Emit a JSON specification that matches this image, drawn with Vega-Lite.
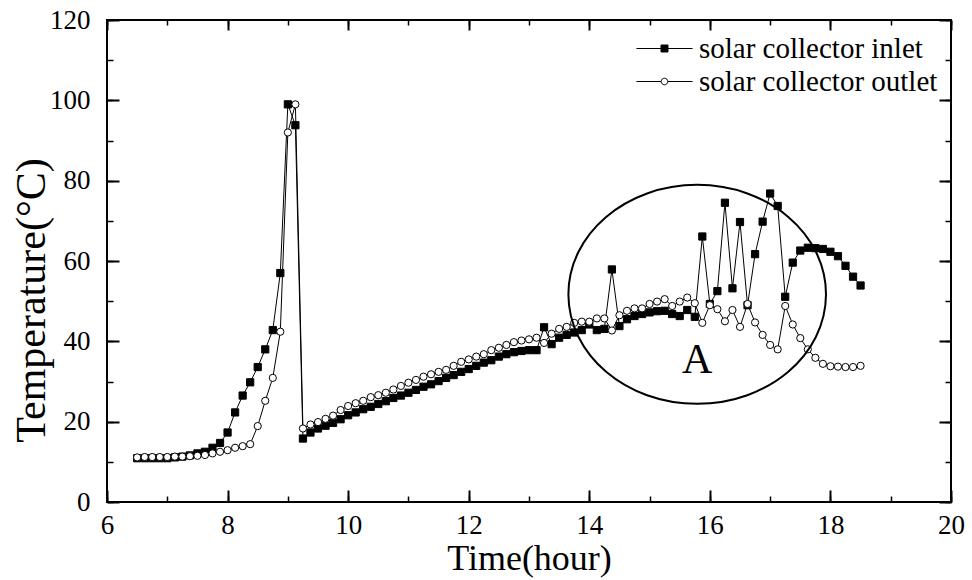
{
  "$schema": "https://vega.github.io/schema/vega-lite/v6.json",
  "width": 844,
  "height": 482,
  "autosize": {"type": "none"},
  "padding": {"left": 107, "top": 20, "right": 21, "bottom": 78},
  "background": "white",
  "datasets": {
    "temps": [
      {"time": 6.5, "temperature": 10.9, "series": "solar collector inlet"},
      {"time": 6.625, "temperature": 10.9, "series": "solar collector inlet"},
      {"time": 6.75, "temperature": 10.9, "series": "solar collector inlet"},
      {"time": 6.875, "temperature": 10.9, "series": "solar collector inlet"},
      {"time": 7.0, "temperature": 10.9, "series": "solar collector inlet"},
      {"time": 7.125, "temperature": 11.1, "series": "solar collector inlet"},
      {"time": 7.25, "temperature": 11.3, "series": "solar collector inlet"},
      {"time": 7.375, "temperature": 11.6, "series": "solar collector inlet"},
      {"time": 7.5, "temperature": 12.1, "series": "solar collector inlet"},
      {"time": 7.625, "temperature": 12.5, "series": "solar collector inlet"},
      {"time": 7.75, "temperature": 13.5, "series": "solar collector inlet"},
      {"time": 7.875, "temperature": 14.7, "series": "solar collector inlet"},
      {"time": 8.0, "temperature": 17.3, "series": "solar collector inlet"},
      {"time": 8.125, "temperature": 22.3, "series": "solar collector inlet"},
      {"time": 8.25, "temperature": 26.5, "series": "solar collector inlet"},
      {"time": 8.375, "temperature": 29.8, "series": "solar collector inlet"},
      {"time": 8.5, "temperature": 33.6, "series": "solar collector inlet"},
      {"time": 8.625, "temperature": 38.0, "series": "solar collector inlet"},
      {"time": 8.75, "temperature": 42.8, "series": "solar collector inlet"},
      {"time": 8.875, "temperature": 57.0, "series": "solar collector inlet"},
      {"time": 9.0, "temperature": 99.0, "series": "solar collector inlet"},
      {"time": 9.125, "temperature": 93.8, "series": "solar collector inlet"},
      {"time": 9.25, "temperature": 15.8, "series": "solar collector inlet"},
      {"time": 9.375, "temperature": 17.3, "series": "solar collector inlet"},
      {"time": 9.5, "temperature": 18.3, "series": "solar collector inlet"},
      {"time": 9.625, "temperature": 19.0, "series": "solar collector inlet"},
      {"time": 9.75, "temperature": 19.7, "series": "solar collector inlet"},
      {"time": 9.875, "temperature": 20.6, "series": "solar collector inlet"},
      {"time": 10.0, "temperature": 21.6, "series": "solar collector inlet"},
      {"time": 10.125, "temperature": 22.3, "series": "solar collector inlet"},
      {"time": 10.25, "temperature": 23.1, "series": "solar collector inlet"},
      {"time": 10.375, "temperature": 23.7, "series": "solar collector inlet"},
      {"time": 10.5, "temperature": 24.4, "series": "solar collector inlet"},
      {"time": 10.625, "temperature": 25.1, "series": "solar collector inlet"},
      {"time": 10.75, "temperature": 25.9, "series": "solar collector inlet"},
      {"time": 10.875, "temperature": 26.5, "series": "solar collector inlet"},
      {"time": 11.0, "temperature": 27.2, "series": "solar collector inlet"},
      {"time": 11.125, "temperature": 27.9, "series": "solar collector inlet"},
      {"time": 11.25, "temperature": 28.7, "series": "solar collector inlet"},
      {"time": 11.375, "temperature": 29.3, "series": "solar collector inlet"},
      {"time": 11.5, "temperature": 30.1, "series": "solar collector inlet"},
      {"time": 11.625, "temperature": 30.9, "series": "solar collector inlet"},
      {"time": 11.75, "temperature": 31.6, "series": "solar collector inlet"},
      {"time": 11.875, "temperature": 32.4, "series": "solar collector inlet"},
      {"time": 12.0, "temperature": 33.1, "series": "solar collector inlet"},
      {"time": 12.125, "temperature": 33.9, "series": "solar collector inlet"},
      {"time": 12.25, "temperature": 34.7, "series": "solar collector inlet"},
      {"time": 12.375, "temperature": 35.3, "series": "solar collector inlet"},
      {"time": 12.5, "temperature": 36.2, "series": "solar collector inlet"},
      {"time": 12.625, "temperature": 36.8, "series": "solar collector inlet"},
      {"time": 12.75, "temperature": 37.3, "series": "solar collector inlet"},
      {"time": 12.875, "temperature": 37.6, "series": "solar collector inlet"},
      {"time": 13.0, "temperature": 37.8, "series": "solar collector inlet"},
      {"time": 13.125, "temperature": 37.8, "series": "solar collector inlet"},
      {"time": 13.25, "temperature": 43.5, "series": "solar collector inlet"},
      {"time": 13.375, "temperature": 39.3, "series": "solar collector inlet"},
      {"time": 13.5, "temperature": 40.9, "series": "solar collector inlet"},
      {"time": 13.625, "temperature": 41.6, "series": "solar collector inlet"},
      {"time": 13.75, "temperature": 42.2, "series": "solar collector inlet"},
      {"time": 13.875, "temperature": 42.8, "series": "solar collector inlet"},
      {"time": 14.0, "temperature": 44.2, "series": "solar collector inlet"},
      {"time": 14.125, "temperature": 42.8, "series": "solar collector inlet"},
      {"time": 14.25, "temperature": 43.1, "series": "solar collector inlet"},
      {"time": 14.375, "temperature": 57.9, "series": "solar collector inlet"},
      {"time": 14.5, "temperature": 43.8, "series": "solar collector inlet"},
      {"time": 14.625, "temperature": 45.5, "series": "solar collector inlet"},
      {"time": 14.75, "temperature": 46.3, "series": "solar collector inlet"},
      {"time": 14.875, "temperature": 46.8, "series": "solar collector inlet"},
      {"time": 15.0, "temperature": 47.2, "series": "solar collector inlet"},
      {"time": 15.125, "temperature": 47.5, "series": "solar collector inlet"},
      {"time": 15.25, "temperature": 47.6, "series": "solar collector inlet"},
      {"time": 15.375, "temperature": 46.8, "series": "solar collector inlet"},
      {"time": 15.5, "temperature": 46.3, "series": "solar collector inlet"},
      {"time": 15.625, "temperature": 47.8, "series": "solar collector inlet"},
      {"time": 15.75, "temperature": 46.1, "series": "solar collector inlet"},
      {"time": 15.875, "temperature": 66.1, "series": "solar collector inlet"},
      {"time": 16.0, "temperature": 49.3, "series": "solar collector inlet"},
      {"time": 16.125, "temperature": 52.5, "series": "solar collector inlet"},
      {"time": 16.25, "temperature": 74.5, "series": "solar collector inlet"},
      {"time": 16.375, "temperature": 53.2, "series": "solar collector inlet"},
      {"time": 16.5, "temperature": 69.7, "series": "solar collector inlet"},
      {"time": 16.625, "temperature": 49.0, "series": "solar collector inlet"},
      {"time": 16.75, "temperature": 61.7, "series": "solar collector inlet"},
      {"time": 16.875, "temperature": 69.8, "series": "solar collector inlet"},
      {"time": 17.0, "temperature": 76.8, "series": "solar collector inlet"},
      {"time": 17.125, "temperature": 73.7, "series": "solar collector inlet"},
      {"time": 17.25, "temperature": 51.1, "series": "solar collector inlet"},
      {"time": 17.375, "temperature": 59.6, "series": "solar collector inlet"},
      {"time": 17.5, "temperature": 62.6, "series": "solar collector inlet"},
      {"time": 17.625, "temperature": 63.3, "series": "solar collector inlet"},
      {"time": 17.75, "temperature": 63.2, "series": "solar collector inlet"},
      {"time": 17.875, "temperature": 63.0, "series": "solar collector inlet"},
      {"time": 18.0, "temperature": 62.3, "series": "solar collector inlet"},
      {"time": 18.125, "temperature": 61.2, "series": "solar collector inlet"},
      {"time": 18.25, "temperature": 58.8, "series": "solar collector inlet"},
      {"time": 18.375, "temperature": 56.1, "series": "solar collector inlet"},
      {"time": 18.5, "temperature": 53.9, "series": "solar collector inlet"},
      {"time": 6.5, "temperature": 11.1, "series": "solar collector outlet"},
      {"time": 6.625, "temperature": 11.2, "series": "solar collector outlet"},
      {"time": 6.75, "temperature": 11.2, "series": "solar collector outlet"},
      {"time": 6.875, "temperature": 11.2, "series": "solar collector outlet"},
      {"time": 7.0, "temperature": 11.2, "series": "solar collector outlet"},
      {"time": 7.125, "temperature": 11.3, "series": "solar collector outlet"},
      {"time": 7.25, "temperature": 11.3, "series": "solar collector outlet"},
      {"time": 7.375, "temperature": 11.4, "series": "solar collector outlet"},
      {"time": 7.5, "temperature": 11.5, "series": "solar collector outlet"},
      {"time": 7.625, "temperature": 11.7, "series": "solar collector outlet"},
      {"time": 7.75, "temperature": 12.1, "series": "solar collector outlet"},
      {"time": 7.875, "temperature": 12.5, "series": "solar collector outlet"},
      {"time": 8.0, "temperature": 12.9, "series": "solar collector outlet"},
      {"time": 8.125, "temperature": 13.5, "series": "solar collector outlet"},
      {"time": 8.25, "temperature": 13.9, "series": "solar collector outlet"},
      {"time": 8.375, "temperature": 14.4, "series": "solar collector outlet"},
      {"time": 8.5, "temperature": 18.9, "series": "solar collector outlet"},
      {"time": 8.625, "temperature": 25.2, "series": "solar collector outlet"},
      {"time": 8.75, "temperature": 30.9, "series": "solar collector outlet"},
      {"time": 8.875, "temperature": 42.4, "series": "solar collector outlet"},
      {"time": 9.0, "temperature": 92.0, "series": "solar collector outlet"},
      {"time": 9.125, "temperature": 99.0, "series": "solar collector outlet"},
      {"time": 9.25, "temperature": 18.3, "series": "solar collector outlet"},
      {"time": 9.375, "temperature": 19.3, "series": "solar collector outlet"},
      {"time": 9.5, "temperature": 19.9, "series": "solar collector outlet"},
      {"time": 9.625, "temperature": 20.7, "series": "solar collector outlet"},
      {"time": 9.75, "temperature": 21.5, "series": "solar collector outlet"},
      {"time": 9.875, "temperature": 22.9, "series": "solar collector outlet"},
      {"time": 10.0, "temperature": 23.9, "series": "solar collector outlet"},
      {"time": 10.125, "temperature": 24.6, "series": "solar collector outlet"},
      {"time": 10.25, "temperature": 25.2, "series": "solar collector outlet"},
      {"time": 10.375, "temperature": 26.1, "series": "solar collector outlet"},
      {"time": 10.5, "temperature": 26.6, "series": "solar collector outlet"},
      {"time": 10.625, "temperature": 27.2, "series": "solar collector outlet"},
      {"time": 10.75, "temperature": 28.0, "series": "solar collector outlet"},
      {"time": 10.875, "temperature": 28.9, "series": "solar collector outlet"},
      {"time": 11.0, "temperature": 29.7, "series": "solar collector outlet"},
      {"time": 11.125, "temperature": 30.4, "series": "solar collector outlet"},
      {"time": 11.25, "temperature": 31.2, "series": "solar collector outlet"},
      {"time": 11.375, "temperature": 31.8, "series": "solar collector outlet"},
      {"time": 11.5, "temperature": 32.4, "series": "solar collector outlet"},
      {"time": 11.625, "temperature": 32.9, "series": "solar collector outlet"},
      {"time": 11.75, "temperature": 33.9, "series": "solar collector outlet"},
      {"time": 11.875, "temperature": 34.9, "series": "solar collector outlet"},
      {"time": 12.0, "temperature": 35.5, "series": "solar collector outlet"},
      {"time": 12.125, "temperature": 36.2, "series": "solar collector outlet"},
      {"time": 12.25, "temperature": 36.8, "series": "solar collector outlet"},
      {"time": 12.375, "temperature": 37.8, "series": "solar collector outlet"},
      {"time": 12.5, "temperature": 38.4, "series": "solar collector outlet"},
      {"time": 12.625, "temperature": 39.1, "series": "solar collector outlet"},
      {"time": 12.75, "temperature": 39.8, "series": "solar collector outlet"},
      {"time": 12.875, "temperature": 40.2, "series": "solar collector outlet"},
      {"time": 13.0, "temperature": 40.5, "series": "solar collector outlet"},
      {"time": 13.125, "temperature": 40.9, "series": "solar collector outlet"},
      {"time": 13.25, "temperature": 39.6, "series": "solar collector outlet"},
      {"time": 13.375, "temperature": 41.9, "series": "solar collector outlet"},
      {"time": 13.5, "temperature": 43.1, "series": "solar collector outlet"},
      {"time": 13.625, "temperature": 43.6, "series": "solar collector outlet"},
      {"time": 13.75, "temperature": 44.6, "series": "solar collector outlet"},
      {"time": 13.875, "temperature": 44.9, "series": "solar collector outlet"},
      {"time": 14.0, "temperature": 44.9, "series": "solar collector outlet"},
      {"time": 14.125, "temperature": 45.7, "series": "solar collector outlet"},
      {"time": 14.25, "temperature": 45.7, "series": "solar collector outlet"},
      {"time": 14.375, "temperature": 42.7, "series": "solar collector outlet"},
      {"time": 14.5, "temperature": 46.5, "series": "solar collector outlet"},
      {"time": 14.625, "temperature": 47.6, "series": "solar collector outlet"},
      {"time": 14.75, "temperature": 48.2, "series": "solar collector outlet"},
      {"time": 14.875, "temperature": 48.2, "series": "solar collector outlet"},
      {"time": 15.0, "temperature": 49.3, "series": "solar collector outlet"},
      {"time": 15.125, "temperature": 49.9, "series": "solar collector outlet"},
      {"time": 15.25, "temperature": 50.5, "series": "solar collector outlet"},
      {"time": 15.375, "temperature": 48.8, "series": "solar collector outlet"},
      {"time": 15.5, "temperature": 49.9, "series": "solar collector outlet"},
      {"time": 15.625, "temperature": 50.9, "series": "solar collector outlet"},
      {"time": 15.75, "temperature": 49.5, "series": "solar collector outlet"},
      {"time": 15.875, "temperature": 44.6, "series": "solar collector outlet"},
      {"time": 16.0, "temperature": 49.0, "series": "solar collector outlet"},
      {"time": 16.125, "temperature": 48.0, "series": "solar collector outlet"},
      {"time": 16.25, "temperature": 45.0, "series": "solar collector outlet"},
      {"time": 16.375, "temperature": 47.8, "series": "solar collector outlet"},
      {"time": 16.5, "temperature": 43.6, "series": "solar collector outlet"},
      {"time": 16.625, "temperature": 49.3, "series": "solar collector outlet"},
      {"time": 16.75, "temperature": 44.7, "series": "solar collector outlet"},
      {"time": 16.875, "temperature": 41.6, "series": "solar collector outlet"},
      {"time": 17.0, "temperature": 39.1, "series": "solar collector outlet"},
      {"time": 17.125, "temperature": 38.0, "series": "solar collector outlet"},
      {"time": 17.25, "temperature": 48.8, "series": "solar collector outlet"},
      {"time": 17.375, "temperature": 44.2, "series": "solar collector outlet"},
      {"time": 17.5, "temperature": 40.8, "series": "solar collector outlet"},
      {"time": 17.625, "temperature": 38.0, "series": "solar collector outlet"},
      {"time": 17.75, "temperature": 35.9, "series": "solar collector outlet"},
      {"time": 17.875, "temperature": 34.4, "series": "solar collector outlet"},
      {"time": 18.0, "temperature": 33.8, "series": "solar collector outlet"},
      {"time": 18.125, "temperature": 33.7, "series": "solar collector outlet"},
      {"time": 18.25, "temperature": 33.6, "series": "solar collector outlet"},
      {"time": 18.375, "temperature": 33.6, "series": "solar collector outlet"},
      {"time": 18.5, "temperature": 33.9, "series": "solar collector outlet"}
    ],
    "region": [
      {"time": 15.79, "temperature": 51.7}
    ],
    "label": [
      {"time": 15.79, "temperature": 32.2, "text": "A"}
    ],
    "keys": [
      {"series": "solar collector inlet"},
      {"series": "solar collector outlet"}
    ]
  },
  "resolve": {
    "axis": {"x": "independent", "y": "independent"},
    "scale": {"shape": "independent", "color": "independent"}
  },
  "layer": [
    {
      "data": {"name": "temps"},
      "mark": {"type": "line", "color": "black", "strokeWidth": 1},
      "encoding": {
        "x": {
          "field": "time", "type": "quantitative",
          "scale": {"domain": [6, 20], "nice": false, "zero": false},
          "axis": {"orient": "bottom", "values": [6, 8, 10, 12, 14, 16, 18, 20], "tickSize": -12, "tickWidth": 2, "labelPadding": 22, "labelFontSize": 27, "labelFlush": false, "labelOverlap": false, "title": "Time(hour)", "titleFontSize": 36, "titlePadding": 3}
        },
        "y": {
          "field": "temperature", "type": "quantitative",
          "scale": {"domain": [0, 120], "nice": false, "zero": false},
          "axis": {"orient": "left", "values": [0, 20, 40, 60, 80, 100, 120], "tickSize": -12, "tickWidth": 2, "labelPadding": 29, "labelFontSize": 27, "labelFlush": false, "labelOverlap": false, "title": "Temperature(°C)", "titleFontSize": 42, "titleX": -54, "titleY": 280}
        },
        "detail": {"field": "series", "type": "nominal"}
      }
    },
    {
      "data": {"name": "temps"},
      "mark": {"type": "point", "filled": true, "stroke": "black", "strokeWidth": 1, "opacity": 1, "size": 52},
      "encoding": {
        "x": {
          "field": "time", "type": "quantitative",
          "scale": {"domain": [6, 20], "nice": false, "zero": false},
          "axis": {"orient": "bottom", "values": [6, 7, 8, 9, 10, 11, 12, 13, 14, 15, 16, 17, 18, 19, 20], "tickSize": -6, "tickWidth": 1.5, "labels": false, "title": null}
        },
        "y": {
          "field": "temperature", "type": "quantitative",
          "scale": {"domain": [0, 120], "nice": false, "zero": false},
          "axis": {"orient": "left", "values": [0, 10, 20, 30, 40, 50, 60, 70, 80, 90, 100, 110, 120], "tickSize": -6, "tickWidth": 1.5, "labels": false, "title": null}
        },
        "fill": {
          "field": "series", "type": "nominal",
          "scale": {"domain": ["solar collector inlet", "solar collector outlet"], "range": ["black", "white"]},
          "legend": null
        },
        "shape": {
          "field": "series", "type": "nominal",
          "scale": {"domain": ["solar collector inlet", "solar collector outlet"], "range": ["square", "circle"]},
          "legend": null
        }
      }
    },
    {
      "data": {"name": "keys"},
      "mark": {"type": "point", "filled": true, "stroke": "black", "strokeWidth": 1, "opacity": 1, "size": 0},
      "encoding": {
        "color": {
          "field": "series", "type": "nominal",
          "scale": {"domain": ["solar collector inlet", "solar collector outlet"], "range": ["black", "white"]},
          "legend": {"title": null, "orient": "top-right", "offset": 13, "padding": 0, "rowPadding": 2, "labelOffset": 19, "symbolSize": 900, "symbolStrokeWidth": 1, "symbolStrokeColor": "black", "labelFont": "Liberation Serif", "labelFontSize": 29, "labelColor": "black", "labelLimit": 500}
        },
        "shape": {
          "field": "series", "type": "nominal",
          "scale": {"domain": ["solar collector inlet", "solar collector outlet"], "range": ["M-1.87,0H1.87M-0.233,-0.233H0.233V0.233H-0.233Z", "M-1.87,0H-0.22M0.22,0H1.87M-0.22,0A0.22,0.22,0,1,1,0.22,0A0.22,0.22,0,1,1,-0.22,0Z"]},
          "legend": {"title": null, "orient": "top-right", "offset": 13, "padding": 0, "rowPadding": 2, "labelOffset": 19, "symbolSize": 900, "symbolStrokeWidth": 1, "symbolStrokeColor": "black", "labelFont": "Liberation Serif", "labelFontSize": 29, "labelColor": "black", "labelLimit": 500}
        }
      }
    },
    {
      "data": {"name": "region"},
      "mark": {"type": "point", "shape": "M-1,0A1,0.85,0,1,1,1,0A1,0.85,0,1,1,-1,0Z", "size": 66358, "filled": false, "stroke": "black", "strokeWidth": 2, "opacity": 1},
      "encoding": {
        "x": {
          "field": "time", "type": "quantitative",
          "scale": {"domain": [6, 20], "nice": false, "zero": false},
          "axis": {"orient": "top", "values": [6, 8, 10, 12, 14, 16, 18, 20], "tickSize": -10, "tickWidth": 2, "labels": false, "title": null}
        },
        "y": {
          "field": "temperature", "type": "quantitative",
          "scale": {"domain": [0, 120], "nice": false, "zero": false},
          "axis": {"orient": "right", "values": [0, 20, 40, 60, 80, 100, 120], "tickSize": -12, "tickWidth": 2, "labels": false, "title": null}
        }
      }
    },
    {
      "data": {"name": "label"},
      "mark": {"type": "text", "font": "Liberation Serif", "fontSize": 42, "align": "center", "baseline": "alphabetic", "color": "black"},
      "encoding": {
        "x": {
          "field": "time", "type": "quantitative",
          "scale": {"domain": [6, 20], "nice": false, "zero": false},
          "axis": {"orient": "top", "values": [6, 7, 8, 9, 10, 11, 12, 13, 14, 15, 16, 17, 18, 19, 20], "tickSize": -5, "tickWidth": 1.5, "labels": false, "title": null}
        },
        "y": {
          "field": "temperature", "type": "quantitative",
          "scale": {"domain": [0, 120], "nice": false, "zero": false},
          "axis": {"orient": "right", "values": [0, 10, 20, 30, 40, 50, 60, 70, 80, 90, 100, 110, 120], "tickSize": -6, "tickWidth": 1.5, "labels": false, "title": null}
        },
        "text": {"field": "text", "type": "nominal"}
      }
    }
  ],
  "config": {
    "view": {"stroke": "black", "strokeWidth": 2},
    "axis": {"grid": false, "domain": false, "tickColor": "black", "labelColor": "black", "titleColor": "black", "labelFont": "Liberation Serif", "titleFont": "Liberation Serif", "titleFontWeight": "normal"}
  }
}
